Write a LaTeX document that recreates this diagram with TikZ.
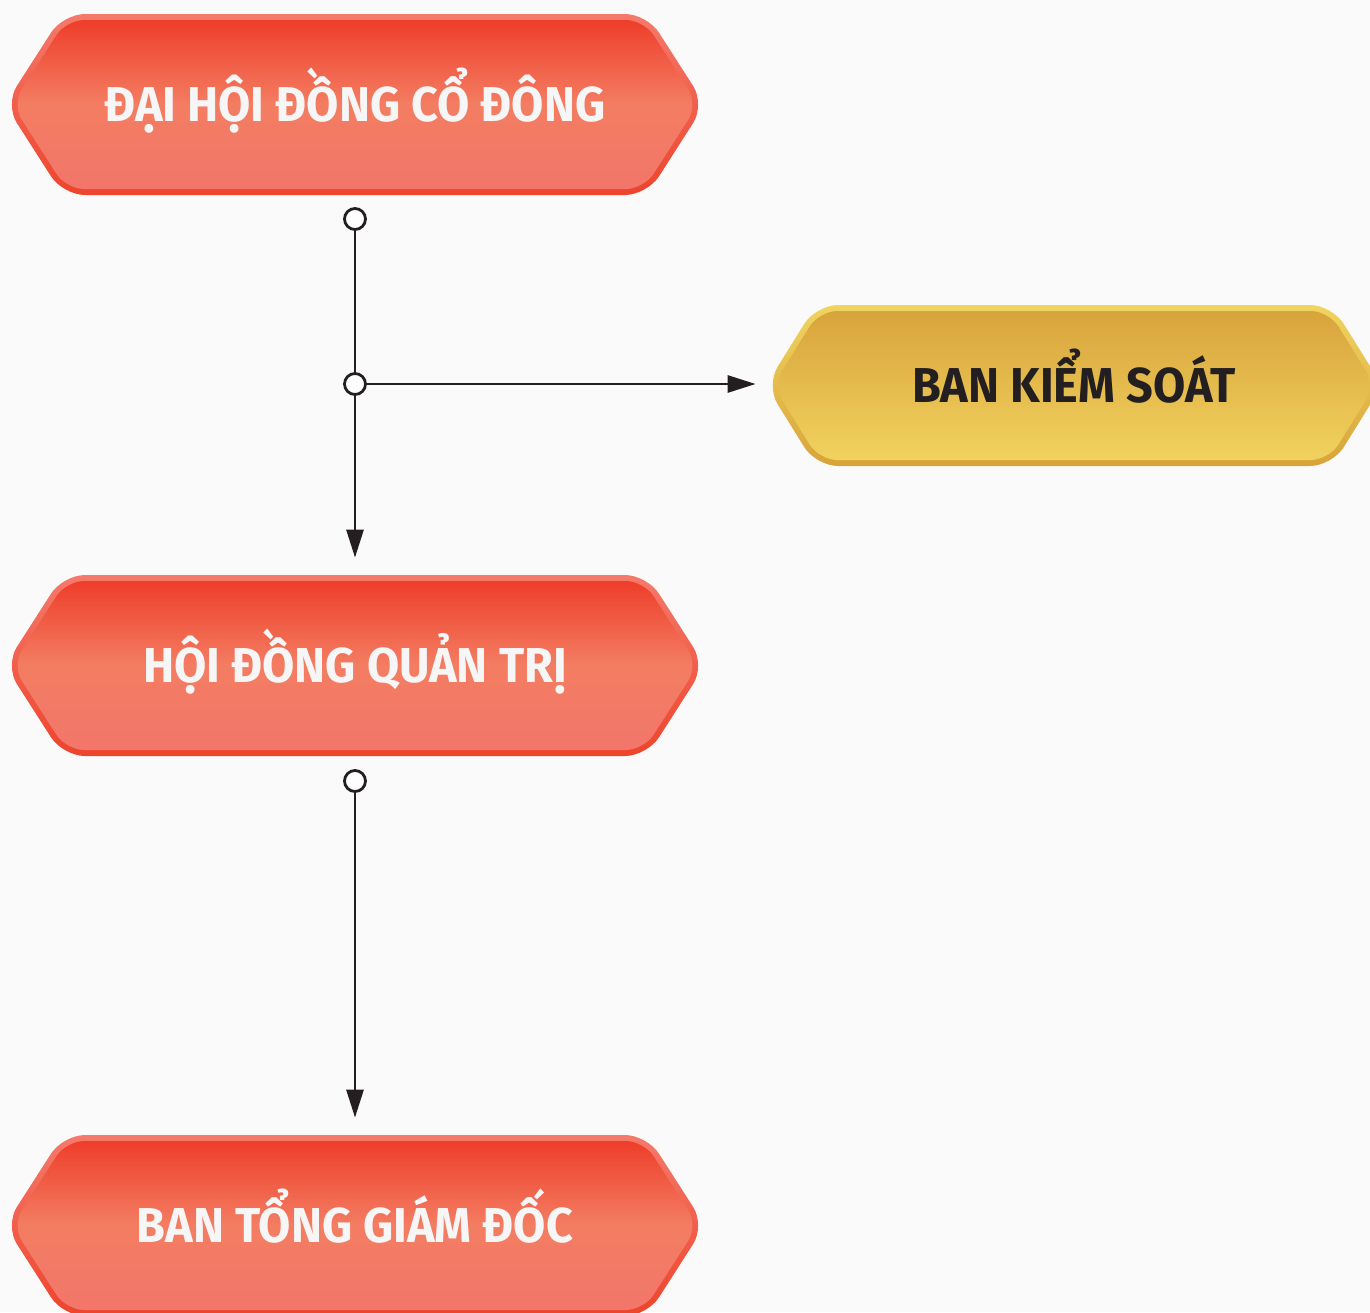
\documentclass[tikz,border=0pt]{standalone}
\usepackage{fontspec}
\setmainfont{Fira Sans}[FakeStretch=0.955]
\usetikzlibrary{arrows.meta}
\usepackage{xcolor}

\definecolor{bg}{RGB}{250,250,250}
\definecolor{ink}{RGB}{35,31,32}
\definecolor{redring1}{RGB}{244,122,108}
\definecolor{redring2}{RGB}{238,68,44}
\definecolor{redin1}{RGB}{238,62,42}
\definecolor{redin2}{RGB}{243,125,98}
\definecolor{redin3}{RGB}{242,118,106}
\definecolor{redtxt}{RGB}{246,246,246}
\definecolor{yelring1}{RGB}{240,212,96}
\definecolor{yelring2}{RGB}{216,164,58}
\definecolor{yelin1}{RGB}{216,164,60}
\definecolor{yelin2}{RGB}{241,210,94}

% hexagon: center, half width, half height, slant
\newcommand{\hexpath}[4]{(#1) ++(-#2,0) -- ++(#4,-#3) -- ++({2*#2-2*#4},0) -- ++(#4,#3) -- ++(-#4,#3) -- ++({-2*#2+2*#4},0) -- cycle}
\newcommand{\redhex}[1]{%
  \shade[rounded corners=11pt, top color=redring1, bottom color=redring2] \hexpath{#1}{350}{90.5}{58};
  \shade[rounded corners=9pt, top color=redin1, bottom color=redin3, middle color=redin2] \hexpath{#1}{343}{84.5}{54.2};
}
\newcommand{\yelhex}[1]{%
  \shade[rounded corners=11pt, top color=yelring1, bottom color=yelring2] \hexpath{#1}{308}{80.5}{50};
  \shade[rounded corners=9pt, top color=yelin1, bottom color=yelin2] \hexpath{#1}{301}{74.5}{46.3};
}

\begin{document}
\begin{tikzpicture}[x=0.5pt,y=-0.5pt,
  txt/.style={font=\fontsize{24.5}{28}\selectfont\bfseries, text height=17pt, text depth=0pt, inner sep=0pt},
  redbox/.style={txt, text=redtxt, minimum width=343pt, minimum height=90.5pt},
  yelbox/.style={txt, text=ink, minimum width=301pt, minimum height=80.5pt},
  dot/.style={circle, draw=ink, fill=white, line width=1.4pt, minimum size=10.5pt, inner sep=0pt},
  line/.style={draw=ink, line width=1.4pt},
  arr/.style={-{Triangle[length=14pt,width=8.5pt]}, shorten >=8.5pt}]
  \fill[bg] (0,0) rectangle (1370,1312);
  \useasboundingbox (0,0) rectangle (1370,1312);

  % boxes
  \redhex{355,104.5}
  \redhex{355,665.5}
  \redhex{355,1225.5}
  \yelhex{1074,385.5}
  \node[redbox] (dhcd) at (355,104.5) {ĐẠI HỘI ĐỒNG CỔ ĐÔNG};
  \node[yelbox] (bks) at (1074,385.5) {BAN KIỂM SOÁT};
  \node[redbox] (hdqt) at (355,665.5) {HỘI ĐỒNG QUẢN TRỊ};
  \node[redbox] (btgd) at (355,1225.5) {BAN TỔNG GIÁM ĐỐC};

  % connectors
  \node[dot] (c1) at (355,219) {};
  \node[dot] (c2) at (355,384) {};
  \node[dot] (c3) at (355,781) {};
  \draw[line] (c1) -- (c2);
  \draw[line, arr] (c2) -- (hdqt);
  \draw[line, arr] (c2) -- (c2 -| bks.west);
  \draw[line, arr] (c3) -- (btgd);
\end{tikzpicture}
\end{document}
